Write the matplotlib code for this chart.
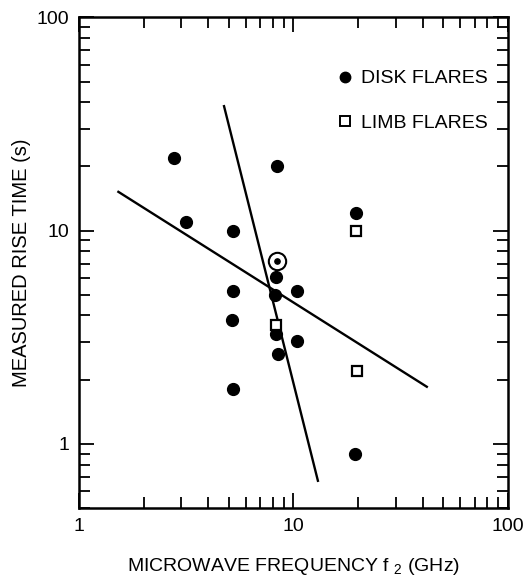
import matplotlib
matplotlib.use("Agg")
import matplotlib.pyplot as plt
from matplotlib.lines import Line2D
from matplotlib.ticker import LogLocator, NullFormatter, FixedFormatter

plt.rcParams["font.family"] = ["Liberation Sans", "DejaVu Sans"]

# disk flares (filled circles)
disk_freq = [2.77, 3.17, 5.2, 8.37, 19.6, 8.33, 5.2, 8.21, 10.37, 5.16, 8.33, 10.37, 8.43, 5.2, 19.3]
disk_rise = [21.9, 11.0, 9.97, 20.1, 12.1, 6.04, 5.23, 5.01, 5.19, 3.81, 3.27, 3.02, 2.64, 1.80, 0.90]

# the circled disk flare
special_freq = [8.37]
special_rise = [7.2]

# limb flares (open squares)
limb_freq = [19.5, 8.25, 19.8]
limb_rise = [10.0, 3.62, 2.20]

# fitted lines (end points)
fit_shallow_freq = [1.51, 42.3]
fit_shallow_rise = [15.3, 1.84]
fit_steep_freq = [4.73, 13.04]
fit_steep_rise = [38.8, 0.663]

fig = plt.figure(figsize=(5.25, 5.78), dpi=100)
ax = fig.add_axes([0.1505, 0.121, 0.817, 0.849])
ax.set_xscale("log")
ax.set_yscale("log")
ax.set_xlim(1, 100)
ax.set_ylim(0.5, 100)

ax.plot(fit_shallow_freq, fit_shallow_rise, color="black", lw=1.7, solid_capstyle="butt")
ax.plot(fit_steep_freq, fit_steep_rise, color="black", lw=1.7, solid_capstyle="butt")

ax.plot(disk_freq, disk_rise, "o", color="black", ms=8.5, ls="none")
ax.plot(special_freq, special_rise, "o", mfc="none", mec="black", mew=1.5, ms=12.5, ls="none")
ax.plot(special_freq, special_rise, "o", color="black", ms=3.8, ls="none")
ax.plot(limb_freq, limb_rise, "s", mfc="white", mec="black", mew=1.6, ms=7.5, ls="none")

handles = [
    Line2D([], [], marker="o", color="black", ls="none", ms=7.5),
    Line2D([], [], marker="s", mfc="white", mec="black", mew=1.4, ls="none", ms=6.5),
]
ax.legend(handles, ["DISK FLARES", "LIMB FLARES"], loc="upper right",
          bbox_to_anchor=(0.952, 0.893), frameon=False, fontsize=14,
          handlelength=0.8, handletextpad=0.4, labelspacing=1.4,
          borderpad=0, borderaxespad=0)

ax.set_xticks([1, 10, 100])
ax.xaxis.set_major_formatter(FixedFormatter(["1", "10", "100"]))
ax.set_yticks([1, 10, 100])
ax.yaxis.set_major_formatter(FixedFormatter(["1", "10", "100"]))
for axis in (ax.xaxis, ax.yaxis):
    axis.set_minor_locator(LogLocator(base=10, subs=range(2, 10)))
    axis.set_minor_formatter(NullFormatter())

ax.tick_params(which="both", direction="in", top=True, right=True, width=1.3,
               labelsize=14, pad=7)
ax.tick_params(which="major", length=11)
ax.tick_params(which="minor", length=8)
for s in ax.spines.values():
    s.set_linewidth(1.8)

ax.set_xlabel(r"MICROWAVE FREQUENCY f $_{\mathregular{2}}$ (GHz)", fontsize=14, labelpad=15)
ax.set_ylabel("MEASURED RISE TIME (s)", fontsize=14.5, labelpad=4)

fig.savefig("out.png", dpi=100)
